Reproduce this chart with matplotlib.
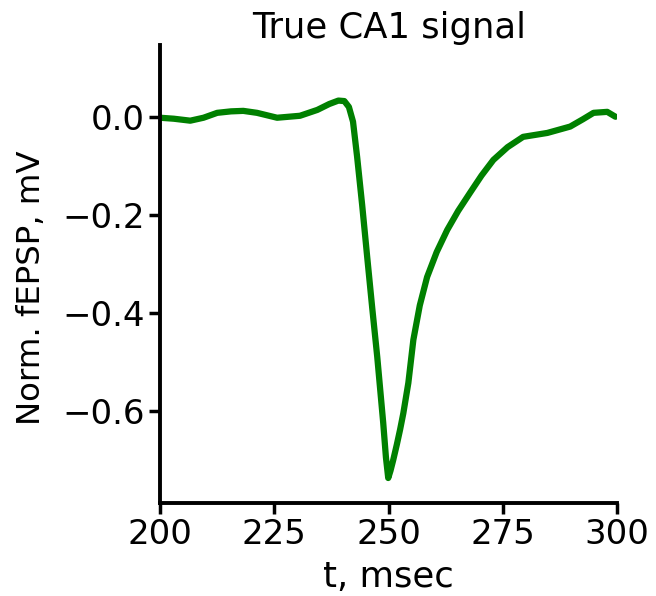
import numpy as np
import matplotlib.pyplot as plt

# CA1 trace
t_ms = [200, 203, 206.6, 209.5, 212.5, 215.5, 218.2, 221.2, 225.6, 230.6, 234.4,
        237.0, 239.0, 240.3, 241.3, 242.2, 243.1, 244.2, 245.3, 246.4, 247.5,
        248.8, 249.4, 249.9, 250.4, 251.0, 251.8, 252.5, 253.2, 254.3, 255.4, 256.8,
        258.4, 260.5, 262.8, 265.2, 267.8, 270.3, 272.9, 276.0, 279.4, 284.7,
        289.7, 292.5, 294.8, 297.8, 299.6]
fepsp = [-0.002, -0.004, -0.008, -0.002, 0.008, 0.011, 0.012, 0.008, -0.002, 0.002, 0.014,
         0.026, 0.033, 0.032, 0.020, -0.010, -0.082, -0.180, -0.286, -0.390, -0.490,
         -0.624, -0.695, -0.737, -0.722, -0.700, -0.668, -0.638, -0.605, -0.543, -0.455, -0.385,
         -0.327, -0.276, -0.231, -0.192, -0.155, -0.120, -0.088, -0.062, -0.041, -0.033,
         -0.020, -0.005, 0.008, 0.010, 0.000]

xticks = [200, 225, 250, 275, 300]
yticks = [0.0, -0.2, -0.4, -0.6]

fig = plt.figure(figsize=(6.56, 5.96), dpi=100)
ax = fig.add_axes([0.244, 0.156, 0.697, 0.769])

ax.plot(t_ms, fepsp, color='green', lw=4.5, solid_joinstyle='round', solid_capstyle='round')

ax.set_xlim(200, 300)
ax.set_ylim(-0.788, 0.147)
ax.set_xticks(xticks)
ax.set_yticks(yticks)
ax.set_yticklabels([f"{v:.1f}".replace('-', '\u2212') for v in yticks])

ax.set_title("True CA1 signal", fontsize=25.5, pad=3)
ax.set_xlabel("t, msec", fontsize=25.5, labelpad=6)
ax.set_ylabel("Norm. fEPSP, mV", fontsize=23.3)
ax.yaxis.set_label_coords(-0.247, 0.47)

for side in ['top', 'right']:
    ax.spines[side].set_visible(False)
for side in ['left', 'bottom']:
    ax.spines[side].set_linewidth(2.8)
ax.tick_params(labelsize=24.5, width=2.5, length=8, pad=3)

plt.savefig("out.png", dpi=100)
